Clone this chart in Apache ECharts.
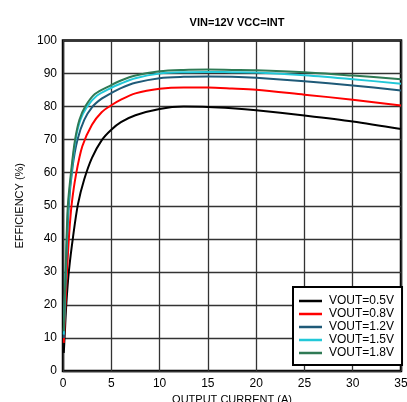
<!DOCTYPE html>
<html>
<head>
<meta charset="utf-8">
<script src="https://cdn.jsdelivr.net/npm/echarts@6/dist/echarts.min.js"></script>
<style>
html,body{margin:0;padding:0;background:#fff;}
#c{width:407px;height:402px;}
</style>
</head>
<body>
<div id="c"></div>
<script>
var titleText = 'VIN=12V VCC=INT';
var xName = 'OUTPUT CURRENT (A)';
var yName = 'EFFICIENCY (%)';
var seriesNames = ['VOUT=0.5V','VOUT=0.8V','VOUT=1.2V','VOUT=1.5V','VOUT=1.8V'];
var seriesColors = ['#000000','#ff0000','#1f5a78','#22c8d8','#2f7a55'];

var vout05 = [[0.08,5.5],[0.17,10.4],[0.35,20.5],[0.62,30.5],[1.04,40.6],[1.55,50.5],[2.2,58],[3,64.5],[4,69.8],[5,73],[6,75.3],[7.5,77.4],[10,79.3],[12.5,80],[15,79.9],[17.5,79.5],[20,78.9],[25,77.3],[30,75.5],[35,73.2]];
var vout08 = [[0.08,8.5],[0.25,20],[0.42,30.5],[0.65,42],[0.9,50.5],[1.35,59.5],[2,68],[3,74.5],[4,78.3],[5,80.4],[6,82.1],[7.5,84],[10,85.4],[12.5,85.8],[15,85.8],[17.5,85.5],[20,85.1],[25,83.6],[30,82.1],[35,80.3]];
var vout12 = [[0.08,10],[0.3,30],[0.6,50],[1.0,62],[1.5,70],[2.2,76],[3,79.8],[4,82.4],[5,84.1],[6,85.6],[7.5,87.2],[10,88.6],[12.5,89],[15,89.1],[17.5,89],[20,88.7],[25,87.7],[30,86.4],[35,84.9]];
var vout15 = [[0.08,11],[0.3,32],[0.55,50],[0.95,62],[1.3,70],[1.8,76],[2.5,80],[3.5,83.3],[5,85.7],[6,87],[7.5,88.6],[10,90],[12.5,90.4],[15,90.5],[17.5,90.4],[20,90.3],[25,89.5],[30,88.3],[35,86.9]];
var vout18 = [[0.08,12],[0.3,33],[0.5,50],[0.9,62],[1.25,70],[1.7,76],[2.3,80],[3.3,83.8],[5,86.5],[6,87.9],[7.5,89.4],[10,90.7],[12.5,91.1],[15,91.2],[17.5,91.1],[20,91.0],[25,90.4],[30,89.4],[35,88.3]];
var seriesData = [vout05, vout08, vout12, vout15, vout18];

var chart = echarts.init(document.getElementById('c'));
var font = 'Arial, "Liberation Sans", Helvetica, sans-serif';
chart.setOption({
  animation: false,
  backgroundColor: '#fff',
  title: {
    text: titleText, left: 232, top: 12, textAlign: 'center',
    textStyle: {fontFamily: font, fontSize: 11, fontWeight: 'bold', color: '#000'}
  },
  grid: {left: 63, right: 6, top: 40.5, bottom: 31, containLabel: false, outerBoundsMode: 'none', show: true, borderColor: '#000', borderWidth: 2.5, backgroundColor: 'transparent'},
  legend: {
    orient: 'vertical', left: 293, top: 287,
    padding: [8, 8, 6, 6], itemGap: 1,
    backgroundColor: '#fff', borderColor: '#000', borderWidth: 2,
    icon: 'rect', itemWidth: 23, itemHeight: 2.5,
    textStyle: {fontFamily: font, fontSize: 12, color: '#000', padding: [0,0,0,2]},
    data: seriesNames
  },
  xAxis: {
    type: 'value', min: 0, max: 35, interval: 5,
    name: xName, nameLocation: 'middle', nameGap: 23,
    nameTextStyle: {fontFamily: font, fontSize: 11, color: '#000'},
    axisLine: {show: false}, axisTick: {show: false},
    axisLabel: {fontFamily: font, fontSize: 12, color: '#000', margin: 7},
    splitLine: {show: true, lineStyle: {color: '#333', width: 1.3}}
  },
  yAxis: {
    type: 'value', min: 0, max: 100, interval: 10,
    name: yName, nameLocation: 'middle', nameGap: 38,
    nameTextStyle: {fontFamily: font, fontSize: 11, color: '#000'},
    axisLine: {show: false}, axisTick: {show: false},
    axisLabel: {fontFamily: font, fontSize: 12, color: '#000', margin: 6},
    splitLine: {show: true, lineStyle: {color: '#333', width: 1.3}}
  },
  series: seriesNames.map(function(n, i){
    return {
      name: n, type: 'line', data: seriesData[i], smooth: 0.3,
      showSymbol: false, symbol: 'none', clip: true,
      lineStyle: {color: seriesColors[i], width: 2},
      itemStyle: {color: seriesColors[i]},
      z: 2 + i
    };
  })
});
</script>
</body>
</html>
